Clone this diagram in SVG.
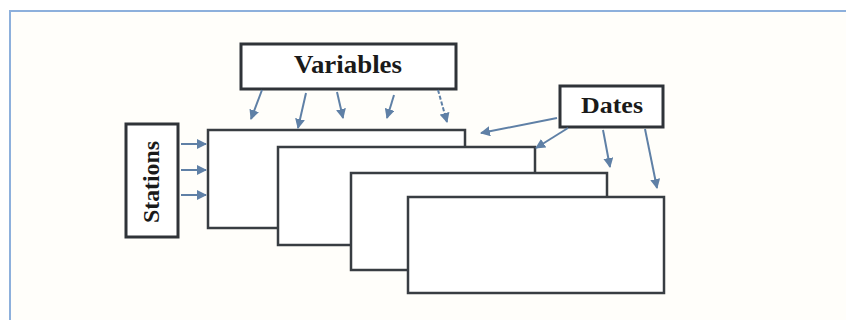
<svg xmlns="http://www.w3.org/2000/svg" width="846" height="320" viewBox="0 0 846 320">
  <style>
    .frame { fill: #fffefa; stroke: #8db0dc; stroke-width: 2; }
    .box { fill: #ffffff; stroke: #2f3338; stroke-width: 3; }
    .sheet { fill: #ffffff; stroke: #383d42; stroke-width: 2.5; }
    .label { font-family: "Liberation Serif", "Times New Roman", serif; font-weight: bold; fill: #1a1a1a; text-anchor: middle; }
    .link { stroke: #5f80a6; stroke-width: 2; fill: none; marker-end: url(#head); }
  </style>
  <defs>
    <marker id="head" viewBox="0 0 10 10" refX="9" refY="5" markerWidth="5" markerHeight="5" orient="auto" markerUnits="strokeWidth">
      <path d="M0,0 L10,5 L0,10 z" fill="#5f80a6"/>
    </marker>
  </defs>

  <rect width="846" height="320" fill="#ffffff"/>
  <rect class="frame" x="10" y="11" width="850" height="320"/>

  <!-- stacked data sheets -->
  <g id="sheet1"><rect class="sheet" x="208" y="130" width="257" height="98"/></g>
  <g id="sheet2"><rect class="sheet" x="278" y="147" width="257" height="98"/></g>
  <g id="sheet3"><rect class="sheet" x="351" y="173" width="256" height="97"/></g>
  <g id="sheet4"><rect class="sheet" x="408" y="197" width="256" height="96"/></g>

  <g id="variables">
    <rect class="box" x="241" y="44" width="215" height="45"/>
    <text class="label" x="348" y="73" font-size="25" textLength="108" lengthAdjust="spacingAndGlyphs">Variables</text>
  </g>

  <g id="dates">
    <rect class="box" x="560" y="86" width="103" height="41"/>
    <text class="label" x="612" y="113" font-size="23" textLength="62" lengthAdjust="spacingAndGlyphs">Dates</text>
  </g>

  <g id="stations">
    <rect class="box" x="126" y="124" width="52" height="113"/>
    <text class="label" x="0" y="0" font-size="24" textLength="82" lengthAdjust="spacingAndGlyphs" transform="translate(159,182) rotate(-90)">Stations</text>
  </g>

  <g id="connectors">
    <!-- variables to sheets -->
    <line class="link" x1="262" y1="90" x2="251" y2="119"/>
    <line class="link" x1="306" y1="93" x2="298" y2="128"/>
    <line class="link" x1="337" y1="92" x2="343" y2="118"/>
    <line class="link" x1="394" y1="95" x2="387" y2="118"/>
    <line class="link" x1="438" y1="90" x2="447" y2="122" stroke-dasharray="4 2"/>
    <!-- dates to sheets -->
    <line class="link" x1="557" y1="118" x2="481" y2="133"/>
    <line class="link" x1="568" y1="128" x2="536" y2="148"/>
    <line class="link" x1="603" y1="130" x2="610" y2="167"/>
    <line class="link" x1="645" y1="129" x2="657" y2="188"/>
    <!-- stations to first sheet -->
    <line class="link" x1="181" y1="144" x2="206" y2="144"/>
    <line class="link" x1="181" y1="170" x2="206" y2="170"/>
    <line class="link" x1="181" y1="195" x2="206" y2="195"/>
  </g>
</svg>
